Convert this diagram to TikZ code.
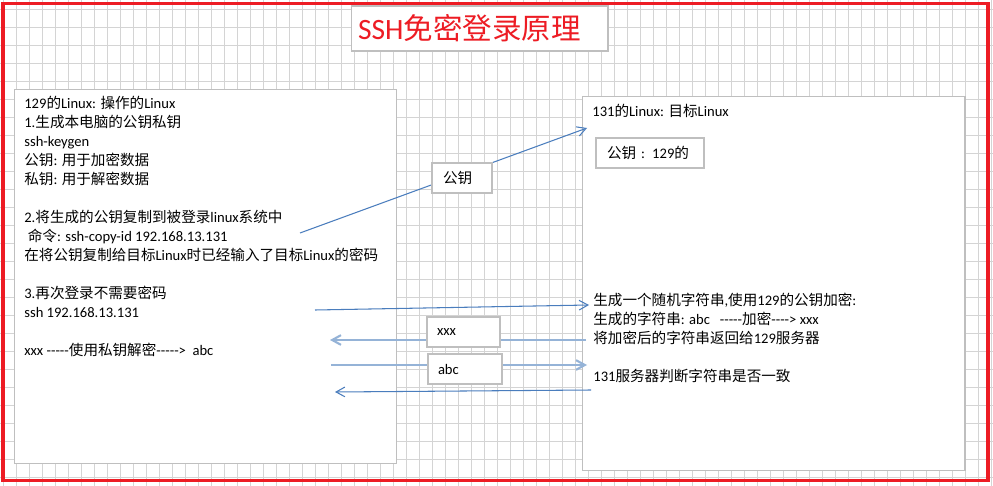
\documentclass[tikz,border=0pt]{standalone}
\usepackage{fontspec}
\setmainfont{Carlito}[Ligatures=TeXOff]
\newfontfamily\cjkfont{Noto Sans CJK SC}
% switch to the CJK face for ideographs
\XeTeXinterchartokenstate=1
\newXeTeXintercharclass\cjkcls
\newcount\cjkc
\cjkc="4E00
\loop
  \XeTeXcharclass\cjkc=\cjkcls
  \ifnum\cjkc<"9FFF \advance\cjkc by 1
\repeat
\XeTeXinterchartoks 0 \cjkcls = {\cjkfont}
\XeTeXinterchartoks 4095 \cjkcls = {\cjkfont}
\XeTeXinterchartoks \cjkcls 0 = {\rmfamily}
\XeTeXinterchartoks \cjkcls 4095 = {\rmfamily}
\usetikzlibrary{arrows.meta}
\definecolor{cGrid}{HTML}{D4D4D4}
\definecolor{cEdge}{HTML}{BFBFBF}
\definecolor{cFrame}{HTML}{ED1C24}
\definecolor{cWire}{HTML}{4A7DBD}
\definecolor{cWireL}{HTML}{95B3D7}
\definecolor{cInk}{HTML}{000000}

\begin{document}
\begin{tikzpicture}[
  x=0.02cm,y=-0.02cm,
  font=\fontsize{8.3pt}{10.8pt}\selectfont,
  gridln/.style={line width=0.55pt,color=cGrid},
  frame/.style={line width=1.8pt,color=cFrame},
  panel/.style={draw=cEdge,fill=white,line width=0.6pt,inner sep=0pt,
                minimum width=7.66cm,minimum height=7.5cm},
  tagbox/.style={draw=cEdge,fill=white,line width=0.6pt,minimum height=0.6cm,
                 inner xsep=0.21cm,inner ysep=0pt,align=left,text=cInk},
  txt/.style={align=left,inner sep=0pt,anchor=north west,text=cInk},
  wire/.style={-{Straight Barb[length=5pt,width=5.5pt]},line width=0.6pt,color=cWire},
  wireL/.style={wire,line width=1.2pt,color=cWireL},
]
\useasboundingbox (0,0) rectangle (993,486);

% ====================================================== sheet grid + frame
\foreach \i in {0,...,76}
  \draw[gridln] (3.3+13*\i,0) -- (3.3+13*\i,486);
\foreach \j in {0,...,26}
  \draw[gridln] (0,9.3+18*\j) -- (993,9.3+18*\j);
\draw[frame] (3,3.3) rectangle (988,480.7);

% title
\node[tagbox,minimum height=0.9cm,inner xsep=0.14cm,text width=4.86cm,
      font=\fontsize{16.8pt}{18pt}\selectfont,text=cFrame] (title) at (479.5,28.5)
  {SSH免密登录原理};

% ====================================================== LEFT: 129 host
\node[panel] (src) at (205.5,276.5) {};
\node[txt] (srcNote) at (24,96)
  {129的Linux: 操作的Linux\\
   1.生成本电脑的公钥私钥\\
   ssh-keygen\\
   公钥: 用于加密数据\\
   私钥: 用于解密数据\\[10.8pt]
   2.将生成的公钥复制到被登录linux系统中\\
   \hspace{2pt}命令: ssh-copy-id 192.168.13.131\\
   在将公钥复制给目标Linux时已经输入了目标Linux的密码\\[10.8pt]
   3.再次登录不需要密码\\
   ssh 192.168.13.131\\[10.8pt]
   xxx -----使用私钥解密-----> \ abc};

% ====================================================== RIGHT: 131 host
\node[panel] (dst) at (773.5,283.5) {};
\node[txt] (dstHead) at (592,104) {131的Linux: 目标Linux};
\node[txt] (dstNote) at (593,293)
  {生成一个随机字符串,使用129的公钥加密:\\
   生成的字符串: abc\ \ \ -----加密----> xxx\\
   将加密后的字符串返回给129服务器\\[10.8pt]
   131服务器判断字符串是否一致};

% ====================================================== messages
\coordinate (cpyFrom) at (300,233);
\coordinate (cpyTo)   at (587,128);
\coordinate (sshFrom) at (315,310);
\coordinate (sshTo)   at (589,305);
\coordinate (encFrom) at (586,340);
\coordinate (encTo)   at (330,340);
\coordinate (decFrom) at (331,365);
\coordinate (decTo)   at (587,365);
\coordinate (chkFrom) at (591,390);
\coordinate (chkTo)   at (335,392);

\draw[wire]  (cpyFrom) -- (cpyTo);
\draw[wire]  (sshFrom) -- (sshTo);
\draw[wireL] (encFrom) -- (encTo);
\draw[wireL] (decFrom) -- (decTo);
\draw[wire]  (chkFrom) -- (chkTo);

% labels sitting on the wires
\node[tagbox,inner xsep=0.22cm,text width=0.76cm] (keyTag) at (462,178) {公钥};
\node[tagbox,inner xsep=0.22cm,text width=1.72cm] (keyStore) at (650,153) {公钥 : 129的};
\node[tagbox,inner xsep=0.2cm,text width=1.06cm] (encTag) at (463.5,332) {xxx};
\node[tagbox,inner xsep=0.2cm,text width=1.08cm] (decTag) at (465,369) {abc};

\end{tikzpicture}
\end{document}
